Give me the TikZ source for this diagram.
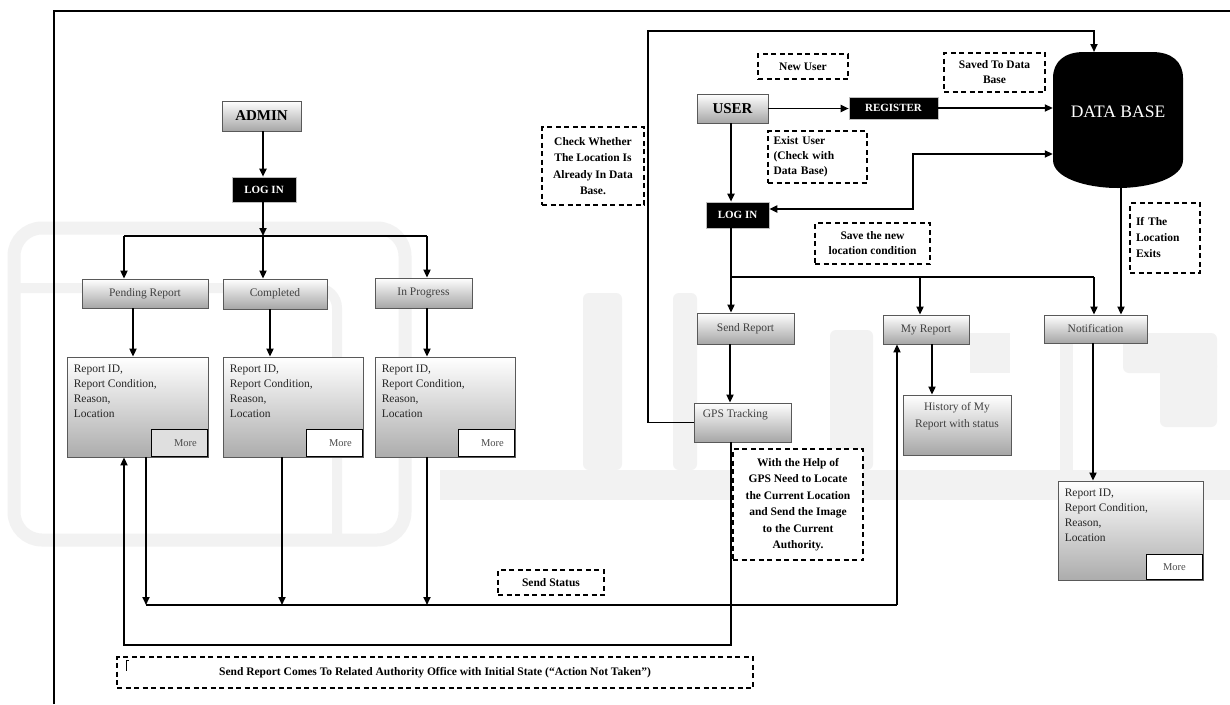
\documentclass[tikz,border=0pt]{standalone}
\usepackage{fontspec}
\setmainfont{Liberation Serif}
\usetikzlibrary{arrows.meta,calc}
\begin{document}
\begin{tikzpicture}[x=1pt,y=-1pt,
  gbox/.style={draw=gray!70!black, line width=0.8pt, top color=white, bottom color=gray!70, inner sep=0pt, text=black!75, font=\fontsize{11.5}{14}\selectfont},
  bbox/.style={fill=black, draw=gray!50, line width=0.6pt, text=white, font=\fontsize{11}{12}\selectfont\bfseries, inner sep=0pt},
  dbox/.style={draw=black, line width=1.1pt, dash pattern=on 5pt off 3.5pt, fill=white, inner sep=0pt, font=\fontsize{11.5}{16.5}\selectfont\bfseries, align=center},
  rbox/.style={draw=gray!70!black, line width=0.8pt, top color=white, bottom color=gray!65, inner sep=0pt},
  morebox/.style={draw=black, line width=1.8pt, fill=white, inner sep=0pt, minimum width=56, minimum height=27, font=\fontsize{10.5}{12}\selectfont, text=black!70},
  rtext/.style={anchor=north west, align=left, inner sep=0pt, font=\fontsize{11.5}{15}\selectfont, text=black!85},
  conn/.style={line width=1.8pt},
  arr/.style={conn, -{Triangle[length=8pt,width=7pt]}},
  darr/.style={conn, {Triangle[length=8pt,width=7pt]}-{Triangle[length=8pt,width=7pt]}},
  wm/.style={gray!10},
]
\useasboundingbox (0,0) rectangle (1230,704);
\fill[white] (0,0) rectangle (1230,704);

% ---------- faint watermark ----------
\draw[wm, line width=13pt, rounded corners=28pt] (14,228) rectangle (405,540);
\draw[wm, line width=10pt, rounded corners=20pt] (20,288) -- (337,288) -- (337,535);
\fill[wm] (440,470) rectangle (1230,500);
\fill[wm, rounded corners=6pt] (583,293) rectangle (622,470);
\fill[wm, rounded corners=6pt] (673,293) rectangle (697,470);
\fill[wm, rounded corners=6pt] (830,330) rectangle (873,470);
\fill[wm] (970,333) rectangle (1010,373);
\fill[wm] (1060,343) rectangle (1073,470);
\fill[wm, rounded corners=6pt] (1123,333) rectangle (1217,373);
\fill[wm, rounded corners=6pt] (1160,360) rectangle (1217,427);

% frame
\draw[line width=1.6pt] (54,704) -- (54,11) -- (1230,11);

% ---------- admin side ----------
\node[gbox, minimum width=79, minimum height=30, font=\fontsize{15}{16}\selectfont\bfseries, text=black] (admin) at (261.5,116) {ADMIN};
\node[bbox, minimum width=64, minimum height=25] (login1) at (264,189.5) {LOG IN};
\node[gbox, minimum width=126, minimum height=29] (pending) at (145,293.5) {Pending Report};
\node[gbox, minimum width=104, minimum height=30] (completed) at (275,294) {Completed};
\node[gbox, minimum width=97, minimum height=30] (inprogress) at (423.5,293) {In Progress};

\node[rbox, minimum width=141, minimum height=100] (rep1) at (137.5,407) {};
\node[rbox, minimum width=140, minimum height=100] (rep2) at (293,407) {};
\node[rbox, minimum width=140, minimum height=100] (rep3) at (445,407) {};
\node[rbox, minimum width=145, minimum height=99] (rep4) at (1130.5,530.5) {};
\node[rtext] (rt1) at ($(rep1.north west)+(7,8)$) {Report ID,\\Report Condition,\\Reason,\\Location};
\node[rtext] (rt2) at ($(rep2.north west)+(7,8)$) {Report ID,\\Report Condition,\\Reason,\\Location};
\node[rtext] (rt3) at ($(rep3.north west)+(7,8)$) {Report ID,\\Report Condition,\\Reason,\\Location};
\node[rtext] (rt4) at ($(rep4.north west)+(7,8)$) {Report ID,\\Report Condition,\\Reason,\\Location};
\node[morebox, anchor=south east, fill=gray!25] (more1) at (rep1.south east) {\hspace*{12pt}More};
\node[morebox, anchor=south east] (more2) at (rep2.south east) {\hspace*{12pt}More};
\node[morebox, anchor=south east] (more3) at (rep3.south east) {\hspace*{12pt}More};
\node[morebox, anchor=south east, minimum height=25] (more4) at (rep4.south east) {More};

% ---------- user side ----------
\node[gbox, minimum width=71, minimum height=29, font=\fontsize{15}{16}\selectfont\bfseries, text=black] (user) at (732.5,108.5) {USER};
\node[bbox, minimum width=89, minimum height=22] (register) at (893.5,108) {REGISTER};
\node[bbox, minimum width=63, minimum height=26] (login2) at (737.5,215) {LOG IN};
\node[inner sep=0pt, minimum width=130, minimum height=136] (db) at (1118,120) {};
\fill[black] (1053,160) -- (1053,78) .. controls (1053,62) and (1064,52) .. (1084,52) -- (1152,52) .. controls (1172,52) and (1183,62) .. (1183,78) -- (1183,160) .. controls (1183,178) and (1150,188) .. (1118,188) .. controls (1086,188) and (1053,178) .. (1053,160) -- cycle;
\node[text=white, font=\fontsize{17.5}{20}\selectfont, inner sep=0pt] (dblabel) at (1118,112) {DATA BASE};

\node[gbox, minimum width=97, minimum height=31] (sendreport) at (745.5,328.5) {Send Report};
\node[gbox, minimum width=86, minimum height=29] (myreport) at (926,329.5) {My Report};
\node[gbox, minimum width=103, minimum height=28] (notification) at (1095.5,329) {Notification};
\node[gbox, minimum width=97, minimum height=39] (gps) at (742.5,422.5) {};
\node[anchor=north west, inner sep=0pt, text=black!75, font=\fontsize{11.5}{14}\selectfont] (gpsl) at ($(gps.north west)+(9,7)$) {GPS Tracking};
\node[gbox, minimum width=108, minimum height=60] (history) at (957,425) {};
\node[anchor=north, inner sep=0pt, align=center, text=black!75, font=\fontsize{11.5}{17}\selectfont] (histl) at ($(history.north)+(0,8)$) {History of My\\Report with status};

% ---------- dashed notes ----------
\node[dbox, minimum width=90, minimum height=25] (newuser) at (803,66.5) {New User};
\node[dbox, minimum width=101, minimum height=39, font=\fontsize{11.5}{15}\selectfont\bfseries] (saved) at (994.5,72.5) {Saved To Data\\Base};
\node[dbox, minimum width=102, minimum height=78] (check) at (593,166) {Check Whether\\The Location Is\\Already In Data\\Base.};
\node[dbox, minimum width=99, minimum height=52, align=left, text width=88, font=\fontsize{11.5}{15}\selectfont\bfseries] (exist) at (817.5,157) {Exist User\\(Check with\\Data Base)};
\node[dbox, minimum width=115, minimum height=41, font=\fontsize{11.5}{15}\selectfont\bfseries] (savenew) at (872.5,243.5) {Save the new\\location condition};
\node[dbox, minimum width=70, minimum height=70, align=left, text width=58, font=\fontsize{11.5}{16}\selectfont\bfseries] (ifloc) at (1165,238) {If The\\Location\\Exits};
\node[dbox, minimum width=130, minimum height=111] (gpshelp) at (798,504.5) {With the Help of\\GPS Need to Locate\\the Current Location\\and Send the Image\\to the Current\\Authority.};
\node[dbox, minimum width=106, minimum height=25] (sendstatus) at (551,582.5) {Send Status};
\node[dbox, minimum width=636, minimum height=31] (bottomnote) at (435,672.5) {Send Report Comes To Related Authority Office with Initial State (``Action Not Taken'')};
\draw[line width=0.8pt] (129,660) -- (126,660) -- (126,671);

% ---------- connectors: admin ----------
\coordinate (j1) at (263,236);
\coordinate (jl) at (124,236);
\coordinate (jr) at (427,236);
\draw[arr] (admin.south -| j1) -- (login1.north -| j1);
\draw[arr] (login1.south -| j1) -- (j1);
\draw[conn] (jl) -- (jr);
\draw[arr] (jl) -- (pending.north -| jl);
\draw[arr] (j1) -- (completed.north -| j1);
\draw[arr] (jr) -- (inprogress.north -| jr);
\draw[arr] (pending.south -| 133,0) -- (rep1.north -| 133,0);
\draw[arr] (completed.south -| 270,0) -- (rep2.north -| 270,0);
\draw[arr] (inprogress.south -| jr) -- (rep3.north -| jr);

\coordinate (b1) at (146,605);
\coordinate (b2) at (282,605);
\coordinate (b3) at (427,605);
\coordinate (b4) at (897,605);
\draw[conn] (b1) -- (b4);
\draw[arr] (rep1.south -| b1) -- (b1);
\draw[arr] (rep2.south -| b2) -- (b2);
\draw[arr] (rep3.south -| b3) -- (b3);
\draw[arr] (b4) -- (myreport.south -| b4);

\coordinate (g1) at (731,645);
\coordinate (g2) at (124,645);
\draw[arr] (gps.south -| g1) -- (g1) -- (g2) -- (rep1.south -| g2);

% ---------- connectors: user ----------
\coordinate (lp1) at (648,31);
\coordinate (lp2) at (1094,31);
\coordinate (dbtop) at (1094,52);
\draw[arr] (gps.west) -- (gps.west -| lp1) -- (lp1) -- (lp2) -- (dbtop);
\draw[arr] (user.east) -- (register.west |- user.east);
\draw[arr] (register.east) -- (db.west |- register.east);
\draw[arr] (user.south -| 731,0) -- (login2.north -| 731,0);
\coordinate (d1) at (913,154);
\coordinate (d2) at (913,209);
\draw[darr] (db.west |- d1) -- (d1) -- (d2) -- (login2.east |- d2);

\coordinate (h1) at (731,277);
\coordinate (h2) at (920,277);
\coordinate (h3) at (1094,277);
\draw[conn] (login2.south -| h1) -- (h1) -- (h3);
\draw[arr] (h1) -- (sendreport.north -| h1);
\draw[arr] (h2) -- (myreport.north -| h2);
\draw[arr] (h3) -- (notification.north -| h3);
\draw[arr] (db.south -| 1121,0) -- (notification.north -| 1121,0);
\draw[arr] (sendreport.south -| 730,0) -- (gps.north -| 730,0);
\draw[arr] (myreport.south -| 932,0) -- (history.north -| 932,0);
\draw[arr] (notification.south -| 1093,0) -- (rep4.north -| 1093,0);
\end{tikzpicture}
\end{document}
